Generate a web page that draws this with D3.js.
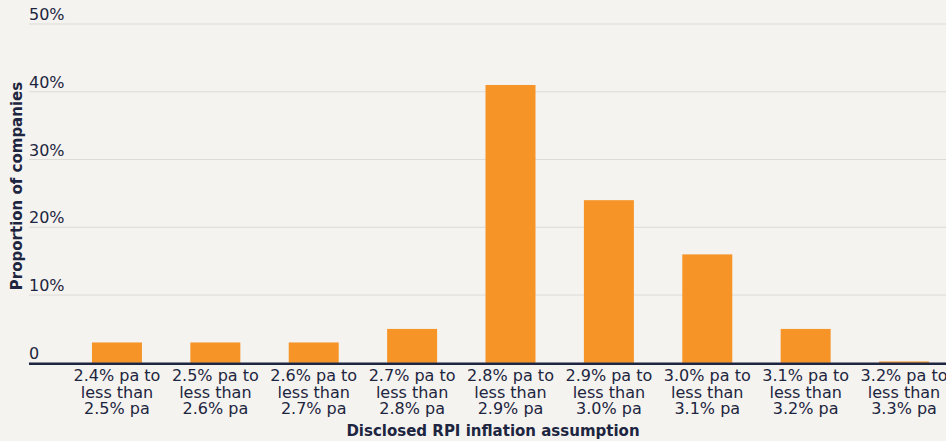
<!DOCTYPE html>
<html>
<head>
<meta charset="utf-8">
<script src="https://cdn.jsdelivr.net/npm/d3@7"></script>
<style>
  html, body { margin: 0; padding: 0; background: #f4f3ef; }
  svg { display: block; }
</style>
</head>
<body>
<svg id="chart" width="946" height="441"></svg>
<script>
// RPI inflation assumption bands (each label is three lines)
const categories = [
  ["2.4% pa to", "less than", "2.5% pa"],
  ["2.5% pa to", "less than", "2.6% pa"],
  ["2.6% pa to", "less than", "2.7% pa"],
  ["2.7% pa to", "less than", "2.8% pa"],
  ["2.8% pa to", "less than", "2.9% pa"],
  ["2.9% pa to", "less than", "3.0% pa"],
  ["3.0% pa to", "less than", "3.1% pa"],
  ["3.1% pa to", "less than", "3.2% pa"],
  ["3.2% pa to", "less than", "3.3% pa"]
];
// Proportion of companies in each band (%)
const proportions = [3, 3, 3, 5, 41, 24, 16, 5, 0.2];
const yTicks = [0, 10, 20, 30, 40, 50];
const yTickLabels = ["0", "10%", "20%", "30%", "40%", "50%"];
const xTitle = "Disclosed RPI inflation assumption";
const yTitle = "Proportion of companies";

const svg = d3.select("#chart");
const W = 946, H = 441;
const plotLeft = 29, plotTop = 24, zeroY = 362.8;
const font = "'DejaVu Sans', sans-serif";
const ink = "#1d2540";

const keys = categories.map(c => c.join(" "));
const x = d3.scaleBand().domain(keys).range([plotLeft, 992]).paddingInner(0.492).paddingOuter(0.64);
const y = d3.scaleLinear().domain([0, 50]).range([zeroY, plotTop]);

// gridlines
svg.append("g").selectAll("line").data(yTicks.filter(t => t > 0)).join("line")
  .attr("x1", plotLeft).attr("x2", W)
  .attr("y1", d => y(d)).attr("y2", d => y(d))
  .attr("stroke", "#dcdbd7").attr("stroke-width", 1);

// tick labels sit just above each gridline
svg.append("g").selectAll("text").data(yTicks).join("text")
  .attr("x", plotLeft).attr("y", d => y(d) - 4)
  .attr("font-family", font).attr("font-size", 16).attr("fill", ink)
  .text((d, i) => yTickLabels[i]);

// bars
svg.append("g").selectAll("rect").data(proportions).join("rect")
  .attr("x", (d, i) => x(keys[i]))
  .attr("width", x.bandwidth())
  .attr("y", d => y(d))
  .attr("height", d => y(0) - y(d))
  .attr("fill", "#f79428");

// baseline
svg.append("line")
  .attr("x1", plotLeft).attr("x2", W)
  .attr("y1", zeroY + 1).attr("y2", zeroY + 1)
  .attr("stroke", ink).attr("stroke-width", 2.5);

// category labels
const xl = svg.append("g").selectAll("text").data(categories).join("text")
  .attr("font-family", font).attr("font-size", 16).attr("fill", ink)
  .attr("text-anchor", "middle");
xl.selectAll("tspan").data((d, i) => d.map(s => ({ s, i }))).join("tspan")
  .attr("x", d => x(keys[d.i]) + x.bandwidth() / 2)
  .attr("y", (d, j) => 381 + j * 16.6)
  .text(d => d.s);

// axis titles
svg.append("text")
  .attr("x", 493).attr("y", 436)
  .attr("text-anchor", "middle")
  .attr("font-family", font).attr("font-size", 15).attr("font-weight", "bold").attr("fill", ink)
  .text(xTitle);

svg.append("text")
  .attr("transform", "translate(22,186) rotate(-90)")
  .attr("text-anchor", "middle")
  .attr("font-family", font).attr("font-size", 15).attr("font-weight", "bold").attr("fill", ink)
  .text(yTitle);
</script>
</body>
</html>
